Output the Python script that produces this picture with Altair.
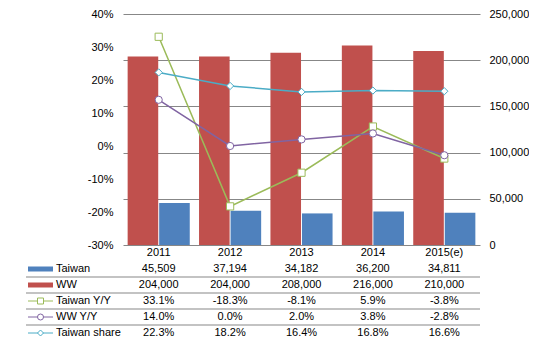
import altair as alt
import pandas as pd

years = ["2011", "2012", "2013", "2014", "2015(e)"]
taiwan = [45509, 37194, 34182, 36200, 34811]
ww = [204000, 204000, 208000, 216000, 210000]
taiwan_yy = [33.1, -18.3, -8.1, 5.9, -3.8]
ww_yy = [14.0, 0.0, 2.0, 3.8, -2.8]
taiwan_share = [22.3, 18.2, 16.4, 16.8, 16.6]

bar_series = ["Taiwan", "WW"]
line_series = ["Taiwan Y/Y", "WW Y/Y", "Taiwan share"]
pct_ticks = [-30, -20, -10, 0, 10, 20, 30, 40]
unit_ticks = [0, 50000, 100000, 150000, 200000, 250000]

all_series = bar_series + line_series
palette = ["#4F81BD", "#C0504D", "#9BBB59", "#8064A2", "#4BACC6"]
shapes = ["square", "circle", "diamond"]

FONT = "Liberation Sans"
W, H = 357, 231
GRID = "#878787"

bar_df = pd.DataFrame(
    [{"year": y, "series": s, "value": v}
     for s, vals in zip(bar_series, [taiwan, ww]) for y, v in zip(years, vals)]
)
line_df = pd.DataFrame(
    [{"year": y, "series": s, "value": v}
     for s, vals in zip(line_series, [taiwan_yy, ww_yy, taiwan_share]) for y, v in zip(years, vals)]
)

color_scale = alt.Scale(domain=all_series, range=palette)
shape_scale = alt.Scale(domain=line_series, range=shapes)
x_scale = alt.Scale(domain=years, paddingInner=0.13, paddingOuter=0.065)
x_enc = alt.X("year:N", scale=x_scale, axis=None)

bars = alt.Chart(bar_df).mark_bar().encode(
    x=x_enc,
    xOffset=alt.XOffset("series:N", scale=alt.Scale(domain=["WW", "Taiwan"], paddingInner=0.03)),
    y=alt.Y("value:Q", scale=alt.Scale(domain=[0, 250000], nice=False, zero=True),
            axis=alt.Axis(orient="right", values=unit_ticks, labelExpr="format(datum.value, ',')",
                          grid=True, gridColor=GRID, gridWidth=1, domain=False, ticks=False,
                          tickSize=0, labelPadding=9, title=None)),
    color=alt.Color("series:N", scale=color_scale, legend=None),
)

y_pct = alt.Y("value:Q", scale=alt.Scale(domain=[-30, 40], nice=False, zero=False),
              axis=alt.Axis(orient="left", values=pct_ticks, labelExpr="datum.value + '%'",
                            grid=False, domain=False, ticks=False, tickSize=0,
                            labelPadding=10, title=None))

lines = alt.Chart(line_df).mark_line(strokeWidth=1.5).encode(
    x=x_enc, y=y_pct, color=alt.Color("series:N", scale=color_scale, legend=None)
)
points = alt.Chart(line_df).mark_point(fill="white", fillOpacity=1, opacity=1, strokeWidth=1, size=52).encode(
    x=x_enc, y=y_pct,
    stroke=alt.Stroke("series:N", scale=color_scale, legend=None),
    shape=alt.Shape("series:N", scale=shape_scale, legend=None),
)

top = alt.layer(bars, alt.layer(lines, points)).resolve_scale(y="independent").properties(width=W, height=H)

# ---- data table ----
rows = ["Year"] + bar_series + line_series
cells = []
for i, y in enumerate(years):
    cells.append({"year": y, "row": "Year", "text": y})
    cells.append({"year": y, "row": "Taiwan", "text": f"{taiwan[i]:,}"})
    cells.append({"year": y, "row": "WW", "text": f"{ww[i]:,}"})
    cells.append({"year": y, "row": "Taiwan Y/Y", "text": f"{taiwan_yy[i]:.1f}%"})
    cells.append({"year": y, "row": "WW Y/Y", "text": f"{ww_yy[i]:.1f}%"})
    cells.append({"year": y, "row": "Taiwan share", "text": f"{taiwan_share[i]:.1f}%"})
cell_df = pd.DataFrame(cells)

row_scale = alt.Scale(domain=rows, paddingInner=0, paddingOuter=0)
y_row = alt.Y("row:N", scale=row_scale, axis=None)

cell_text = alt.Chart(cell_df).mark_text(font=FONT, fontSize=11, color="#000").encode(
    x=alt.X("year:N", scale=x_scale, axis=None), y=y_row, text="text:N"
)

sep_df = pd.DataFrame({"row": rows[1:-1]})
seps = alt.Chart(sep_df).mark_rule(color=GRID, strokeWidth=1).encode(
    x=alt.value(-97), x2=alt.value("width"),
    y=alt.Y("row:N", scale=row_scale, axis=None, bandPosition=1),
)

leg_df = pd.DataFrame({
    "series": all_series, "row": all_series,
    "s": [0.0] * 5, "m": [0.5] * 5, "e": [1.0] * 5,
    "kind": ["bar", "bar", "line", "line", "line"],
})
leg_x = alt.Scale(domain=[0, 1], range=[-95, -70], nice=False, zero=False)
leg_base = alt.Chart(leg_df)
sw_bar = leg_base.transform_filter("datum.kind == 'bar'").mark_rule(strokeWidth=5).encode(
    x=alt.X("s:Q", scale=leg_x, axis=None), x2="e:Q", y=y_row,
    color=alt.Color("series:N", scale=color_scale, legend=None),
)
sw_line = leg_base.transform_filter("datum.kind == 'line'").mark_rule(strokeWidth=1).encode(
    x=alt.X("s:Q", scale=leg_x, axis=None), x2="e:Q", y=y_row,
    color=alt.Color("series:N", scale=color_scale, legend=None),
)
sw_pt = leg_base.transform_filter("datum.kind == 'line'").mark_point(
    fill="white", fillOpacity=1, opacity=1, strokeWidth=1, size=36).encode(
    x=alt.X("m:Q", scale=leg_x, axis=None), y=y_row,
    stroke=alt.Stroke("series:N", scale=color_scale, legend=None),
    shape=alt.Shape("series:N", scale=shape_scale, legend=None),
)
leg_text = leg_base.mark_text(align="left", dx=3, font=FONT, fontSize=11, color="#000").encode(
    x=alt.X("e:Q", scale=leg_x, axis=None), y=y_row, text="series:N"
)

table = alt.layer(
    seps, cell_text, alt.layer(sw_bar, sw_line, sw_pt, leg_text)
).resolve_scale(x="independent").properties(width=W, height=96)

chart = alt.vconcat(top, table, spacing=0, bounds="flush").properties(
    padding={"left": 25, "top": 8, "right": 0, "bottom": 0}
).configure_view(stroke=None).configure_axis(
    labelFont=FONT, labelFontSize=11, labelColor="#000"
)

chart.save("out.html", embed_options={"renderer": "svg", "actions": False})
